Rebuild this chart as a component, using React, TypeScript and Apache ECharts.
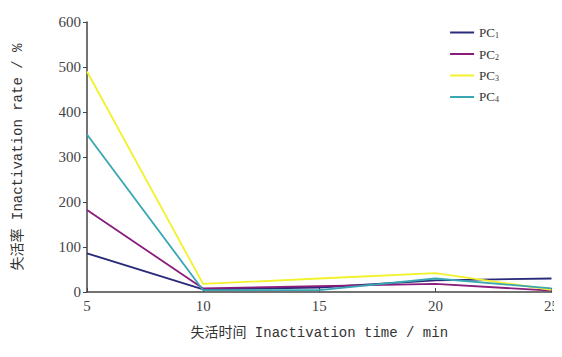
import React, { useEffect, useRef } from "react";
import * as echarts from "echarts";

const times = [5, 10, 15, 20, 25];
const pc1 = [86, 6, 10, 26, 30];
const pc2 = [182, 8, 13, 18, 3];
const pc3 = [490, 18, 30, 42, 5];
const pc4 = [350, 4, 4, 30, 8];
const seriesNames = ["PC1", "PC2", "PC3", "PC4"];
const seriesColors = ["#2a2a7a", "#8a1c7c", "#f2f22a", "#3aa6b4"];
const yTicks = [0, 100, 200, 300, 400, 500, 600];

export default function App() {
  const ref = useRef<HTMLDivElement>(null);
  useEffect(() => {
    if (!ref.current) return;
    const chart = echarts.init(ref.current, null, { renderer: "svg" });
    const all = [pc1, pc2, pc3, pc4];
    const font = "'Liberation Serif', 'DejaVu Serif', 'Noto Sans CJK SC', serif";
    const titleFont = "'Liberation Mono', 'Noto Sans CJK SC', monospace";
    chart.setOption({
      animation: false,
      backgroundColor: "#ffffff",
      grid: { left: 87, right: 7, top: 22, bottom: 65 },
      legend: {
        orient: "vertical",
        right: 58,
        top: 21,
        itemWidth: 24,
        itemHeight: 2,
        itemGap: 8,
        icon: "rect",
        data: seriesNames,
        formatter: (n: string) => `{a|PC}{b|${n.slice(2)}}`,
        textStyle: {
          fontFamily: font,
          rich: {
            a: { fontSize: 13, color: "#333", fontFamily: font },
            b: { fontSize: 8, color: "#333", fontFamily: font, verticalAlign: "bottom", padding: [6, 0, 0, 0] },
          },
        },
      },
      xAxis: {
        type: "value",
        min: 5,
        max: 25,
        interval: 5,
        name: "失活时间 Inactivation time / min",
        nameLocation: "middle",
        nameGap: 34,
        nameTextStyle: { fontFamily: titleFont, fontSize: 14, color: "#333" },
        axisLine: { lineStyle: { color: "#444", width: 1.5 } },
        axisTick: { inside: true, length: 4, lineStyle: { color: "#444" } },
        axisLabel: { fontFamily: font, fontSize: 15, color: "#444", margin: 6 },
        splitLine: { show: false },
      },
      yAxis: {
        type: "value",
        min: 0,
        max: 600,
        interval: 100,
        name: "失活率 Inactivation rate / %",
        nameLocation: "middle",
        nameGap: 62,
        nameTextStyle: { fontFamily: titleFont, fontSize: 14, color: "#333" },
        axisLine: { show: true, lineStyle: { color: "#444", width: 1.5 } },
        axisTick: { show: true, length: 4, lineStyle: { color: "#444" } },
        axisLabel: {
          fontFamily: font,
          fontSize: 15,
          color: "#444",
          margin: 6,
          formatter: (v: number) => (yTicks.includes(v) ? String(v) : ""),
        },
        splitLine: { show: false },
      },
      series: seriesNames.map((name, i) => ({
        name,
        type: "line",
        data: times.map((t, j) => [t, all[i][j]]),
        symbol: "none",
        lineStyle: { color: seriesColors[i], width: 1.8 },
        itemStyle: { color: seriesColors[i] },
      })),
    });
    return () => chart.dispose();
  }, []);
  return <div ref={ref} style={{ width: 562, height: 357, margin: -8 }} />;
}
